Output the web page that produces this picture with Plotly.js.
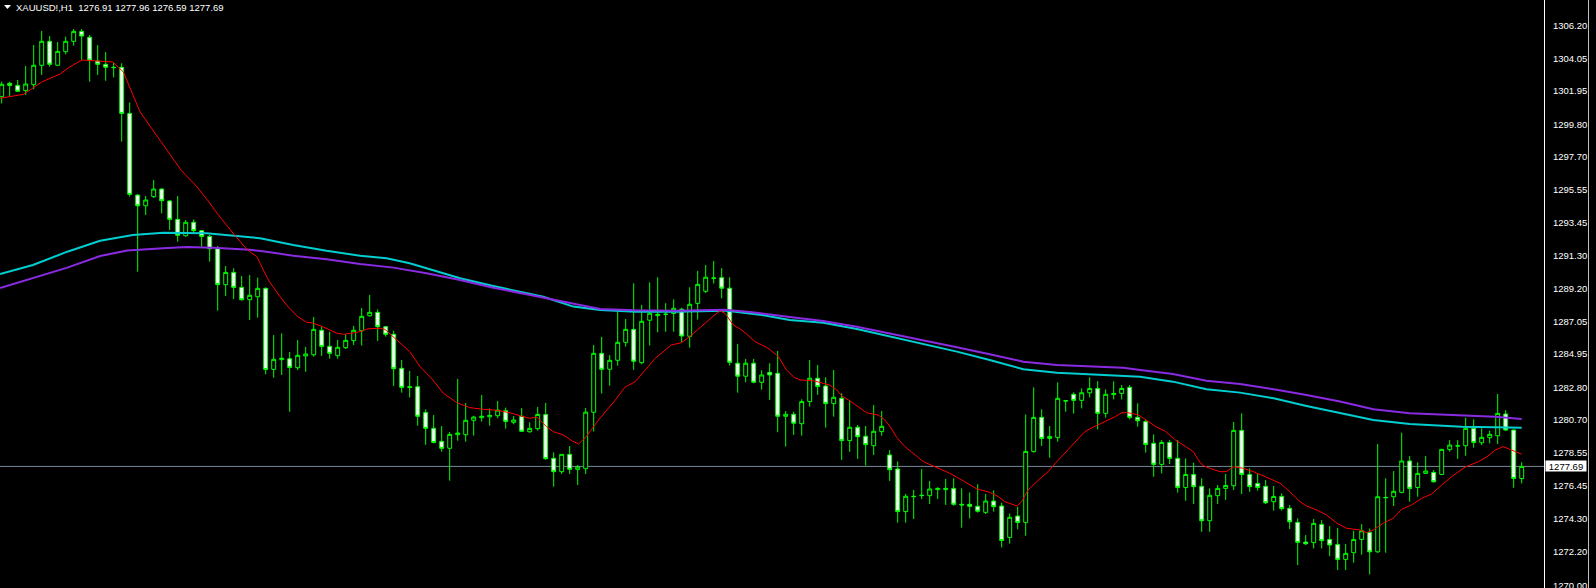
<!DOCTYPE html>
<html>
<head>
<meta charset="utf-8">
<script src="https://cdn.plot.ly/plotly-3.0.1.min.js"></script>
<style>
  html, body { margin:0; padding:0; background:#000; }
  #chart { width:1596px; height:588px; }
</style>
</head>
<body>
<div id="chart"></div>
<script>
// ---- Data ----
const symbolLabel = "XAUUSD!,H1";
const lastOHLC = [1276.91, 1277.96, 1276.59, 1277.69];

const openP = [
1301.59,1302.45,1302.32,1301.98,1302.37,1303.62,1305.17,1303.62,1304.50,1305.17,
1305.81,1305.43,1303.90,1303.68,1303.49,1303.49,1300.51,1295.23,1294.54,1295.13,
1295.62,1294.85,1293.66,1292.60,1293.47,1292.93,1292.56,1291.76,1289.44,1290.23,
1289.26,1288.47,1288.66,1289.20,1283.96,1284.59,1284.65,1284.07,1284.83,1284.91,
1286.49,1285.45,1284.85,1285.37,1285.82,1286.46,1287.43,1287.65,1286.72,1286.23,
1284.03,1282.84,1282.84,1281.18,1280.15,1279.31,1278.86,1279.74,1279.74,1280.67,
1280.84,1280.90,1280.97,1281.29,1280.54,1280.93,1279.93,1280.13,1281.05,1278.21,
1277.35,1278.47,1277.50,1277.54,1281.19,1285.00,1283.97,1284.55,1285.71,1286.55,
1284.40,1287.14,1287.44,1287.52,1287.57,1287.85,1286.10,1288.23,1289.01,1289.85,
1289.89,1289.21,1284.36,1283.52,1284.36,1283.13,1283.77,1283.71,1280.93,1281.06,
1280.45,1281.88,1283.39,1282.89,1281.75,1282.09,1279.36,1280.22,1279.64,1279.03,
1279.94,1278.43,1277.52,1274.77,1275.76,1275.80,1275.80,1276.19,1276.19,1276.27,
1275.24,1275.24,1275.11,1274.72,1275.45,1275.13,1273.10,1274.48,1274.07,1278.66,
1280.86,1279.50,1279.55,1281.94,1282.35,1281.96,1282.45,1282.73,1281.12,1282.33,
1282.41,1282.80,1280.86,1280.58,1279.18,1277.82,1279.24,1278.21,1276.33,1277.17,
1276.40,1274.18,1275.80,1276.27,1276.44,1280.02,1277.17,1276.59,1276.40,1275.41,
1275.75,1274.98,1274.07,1272.80,1272.76,1273.94,1272.97,1272.65,1271.68,1272.11,
1272.97,1273.42,1272.17,1275.69,1275.73,1276.01,1278.04,1276.33,1277.24,1277.30,
1277.17,1278.79,1279.01,1279.03,1280.15,1279.22,1279.55,1279.67,1281.08,1280.04,
1276.91
];
const highP = [
1302.56,1302.56,1302.67,1303.57,1304.93,1305.84,1305.51,1305.12,1305.47,1305.97,
1305.97,1305.58,1304.93,1304.48,1303.79,1303.75,1301.22,1295.30,1295.17,1296.20,
1295.67,1294.91,1295.17,1293.62,1293.66,1292.97,1292.65,1291.94,1290.64,1290.49,
1290.00,1290.06,1289.89,1289.26,1286.18,1286.29,1285.09,1285.86,1285.41,1287.35,
1286.72,1286.40,1285.86,1286.23,1286.77,1287.93,1288.77,1287.84,1286.77,1286.46,
1284.57,1283.86,1283.53,1281.38,1281.01,1280.30,1279.91,1283.34,1281.79,1280.97,
1282.30,1281.44,1281.92,1281.49,1280.95,1281.46,1280.54,1281.53,1281.79,1278.60,
1278.47,1279.01,1277.78,1281.46,1285.54,1286.06,1284.89,1287.70,1287.22,1289.53,
1288.13,1289.59,1289.92,1288.24,1288.49,1287.95,1289.27,1290.33,1290.71,1290.97,
1290.50,1289.92,1285.61,1284.64,1284.64,1283.90,1284.36,1285.15,1281.27,1281.23,
1282.03,1284.57,1284.25,1283.45,1283.92,1282.42,1281.98,1280.37,1280.30,1281.66,
1281.27,1278.75,1278.00,1275.91,1276.17,1277.52,1276.75,1276.34,1276.88,1276.92,
1276.27,1276.01,1276.53,1275.91,1276.14,1275.35,1274.65,1275.08,1281.05,1282.80,
1281.38,1280.30,1283.12,1281.96,1282.48,1282.73,1283.45,1283.21,1282.67,1283.19,
1282.95,1282.95,1281.77,1280.69,1279.76,1279.39,1279.39,1279.39,1278.21,1277.93,
1276.92,1276.27,1276.49,1277.20,1280.56,1281.12,1277.56,1277.20,1276.81,1276.42,
1275.95,1275.19,1274.33,1273.25,1274.29,1274.22,1273.83,1273.71,1272.67,1273.53,
1273.96,1273.68,1279.14,1276.92,1277.39,1279.87,1278.36,1277.95,1278.36,1277.45,
1278.83,1279.39,1279.39,1280.84,1280.73,1280.15,1280.00,1282.37,1281.33,1280.08,
1277.96
];
const lowP = [
1301.16,1301.59,1301.89,1301.70,1302.07,1302.99,1303.53,1303.57,1304.33,1304.89,
1303.96,1302.56,1302.99,1302.62,1302.84,1298.68,1295.13,1290.28,1293.94,1295.04,
1294.05,1292.97,1292.22,1292.54,1292.71,1291.89,1290.92,1287.76,1288.70,1288.51,
1288.40,1287.15,1287.30,1283.64,1283.43,1283.60,1281.23,1283.92,1283.81,1284.78,
1284.83,1284.65,1284.65,1285.28,1285.54,1285.50,1287.37,1285.80,1286.08,1282.89,
1282.46,1282.15,1280.32,1279.09,1279.18,1278.64,1276.77,1279.35,1279.29,1279.68,
1280.58,1280.32,1280.80,1280.13,1280.41,1279.91,1279.87,1280.00,1278.12,1276.38,
1277.20,1277.20,1276.49,1277.20,1279.94,1282.40,1282.91,1284.21,1285.43,1283.93,
1284.29,1285.50,1286.36,1286.40,1286.40,1285.71,1285.37,1287.18,1288.90,1289.51,
1288.56,1284.21,1282.46,1283.13,1283.06,1282.65,1281.99,1279.90,1278.97,1279.72,
1279.68,1281.55,1282.31,1280.20,1280.91,1278.11,1278.64,1278.17,1277.74,1278.43,
1279.68,1276.75,1274.05,1274.05,1274.29,1275.58,1275.26,1275.58,1275.20,1275.15,
1273.73,1274.33,1274.70,1274.61,1274.77,1272.45,1272.70,1273.62,1273.21,1278.58,
1279.01,1278.25,1279.29,1281.23,1281.10,1281.44,1282.15,1280.08,1280.84,1282.02,
1282.02,1280.73,1280.26,1278.58,1277.02,1277.24,1277.84,1275.99,1275.47,1275.26,
1273.47,1273.47,1275.26,1275.52,1276.16,1275.90,1276.05,1276.12,1275.26,1274.83,
1274.83,1273.64,1271.31,1272.61,1272.39,1272.39,1271.89,1270.99,1270.99,1271.46,
1271.98,1270.71,1272.10,1272.11,1275.13,1275.95,1275.41,1275.73,1277.20,1276.64,
1277.15,1278.64,1278.17,1278.38,1278.90,1279.07,1279.18,1279.14,1280.00,1276.31,
1276.59
];
const closeP = [
1302.39,1302.32,1301.94,1302.41,1303.62,1305.17,1303.68,1304.52,1305.17,1305.81,
1305.51,1303.96,1303.68,1303.49,1303.47,1300.51,1295.28,1294.54,1294.91,1295.62,
1294.87,1293.66,1292.63,1293.47,1292.93,1292.56,1291.76,1289.44,1290.23,1289.26,
1288.47,1288.75,1289.20,1283.96,1284.61,1284.68,1284.09,1284.87,1284.96,1286.55,
1285.45,1285.00,1285.39,1285.84,1286.49,1287.39,1287.65,1286.72,1286.23,1284.01,
1282.80,1282.80,1280.93,1280.15,1279.24,1278.86,1279.76,1279.85,1280.67,1280.88,
1280.93,1280.99,1281.33,1280.60,1280.69,1279.96,1280.15,1281.05,1278.19,1277.35,
1278.47,1277.50,1277.65,1281.20,1285.00,1283.97,1284.55,1285.71,1286.55,1284.49,
1287.07,1287.59,1287.52,1287.53,1287.91,1286.12,1288.17,1289.46,1289.92,1289.87,
1289.21,1284.42,1283.52,1284.36,1283.13,1283.60,1283.60,1280.93,1281.06,1280.48,
1281.88,1283.39,1282.85,1281.75,1282.16,1279.36,1280.22,1279.61,1279.10,1279.96,
1280.28,1277.48,1274.77,1275.76,1275.74,1275.82,1276.23,1276.27,1276.27,1275.24,
1275.20,1275.11,1274.79,1275.45,1275.09,1272.90,1274.40,1274.07,1278.66,1280.86,
1279.50,1279.63,1282.09,1281.92,1281.96,1282.45,1282.73,1281.12,1282.35,1282.41,
1282.73,1280.86,1280.64,1279.11,1277.82,1279.24,1278.21,1276.33,1277.17,1276.38,
1274.18,1275.82,1276.27,1276.46,1280.02,1277.17,1276.38,1276.33,1275.34,1275.75,
1274.96,1274.11,1272.78,1272.69,1274.01,1272.89,1272.61,1271.68,1272.07,1272.97,
1273.53,1272.17,1275.73,1275.67,1276.08,1278.04,1276.27,1277.24,1277.39,1276.70,
1278.79,1279.07,1279.02,1280.15,1279.24,1279.57,1279.76,1281.12,1280.04,1276.91,
1277.69
];

// Fast moving average (red), read at bar positions
const redX = [-0.2,2.7,3.9,5.0,7.3,8.5,10.0,11.9,13.9,15.2,17.3,22.5,24.4,26.0,26.9,28.9,30.4,31.2,31.9,32.7,33.4,34.8,35.8,37.0,38.1,38.9,40.2,41.9,42.7,43.8,44.8,45.8,47.3,47.9,48.7,49.7,51.0,52.3,53.9,55.2,56.9,58.5,60.2,61.9,63.5,65.2,66.0,66.9,68.1,68.95,70.2,71.25,72.1,72.9,73.5,74.6,76.7,77.9,79.2,80.4,81.7,83.7,85.0,86.25,87.9,88.95,89.8,90.4,91.45,92.5,94.2,95.8,97.1,98.1,99.1,99.8,101.45,102.5,103.5,104.4,105.0,106.0,107.3,108.1,109.6,110.4,111.0,111.9,112.9,114.4,115.2,116.9,118.5,120.2,121.9,123.5,124.6,125.4,126.9,127.5,128.3,129.6,130.8,131.7,132.9,134.4,135.4,136.4,137.9,139.2,140.0,140.8,142.1,143.3,144.4,145.4,146.7,147.9,148.95,149.8,150.3,151.0,152.3,153.1,153.95,155.2,156.45,158.1,159.8,161.0,162.3,163.1,164.4,165.6,166.9,168.1,169.8,170.6,171.45,172.7,173.95,175.0,176.25,177.5,178.75,180.0,181.25,182.9,184.6,185.8,186.7,187.7,188.5,189.2,190.0];
const redY = [1301.49,1301.74,1302.15,1302.54,1303.06,1303.51,1303.96,1303.90,1303.83,1303.19,1300.60,1296.79,1295.77,1294.72,1294.07,1292.78,1291.87,1291.49,1291.25,1290.39,1289.68,1288.66,1288.02,1287.37,1287.01,1286.96,1286.70,1286.30,1286.23,1286.30,1286.40,1286.59,1286.62,1286.55,1286.19,1285.75,1285.11,1284.14,1283.28,1282.42,1281.81,1281.49,1281.38,1281.32,1281.16,1280.91,1280.80,1280.87,1280.26,1279.94,1279.72,1279.35,1279.14,1279.51,1279.94,1280.69,1281.98,1282.81,1283.17,1283.92,1284.68,1285.54,1285.69,1286.19,1286.94,1287.41,1287.74,1287.59,1286.83,1286.51,1285.75,1285.33,1284.78,1283.92,1283.43,1283.28,1283.23,1283.10,1282.95,1282.63,1282.24,1281.94,1281.45,1281.16,1281.00,1280.69,1280.30,1279.55,1278.97,1278.32,1278.00,1277.61,1277.25,1276.75,1276.23,1276.02,1275.73,1275.41,1275.13,1275.41,1276.17,1276.81,1277.35,1277.89,1278.54,1279.40,1279.94,1280.22,1280.58,1280.91,1281.16,1281.16,1281.02,1280.58,1280.22,1279.98,1279.40,1279.01,1278.64,1277.93,1277.72,1277.57,1277.35,1277.35,1277.67,1277.57,1277.35,1276.99,1276.60,1276.06,1275.41,1275.13,1274.87,1274.55,1274.02,1273.69,1273.58,1273.41,1273.58,1274.02,1274.34,1274.92,1275.20,1275.63,1275.91,1276.49,1277.03,1277.64,1278.00,1278.37,1278.75,1278.97,1278.80,1278.65,1278.48];

// Slow moving average (turquoise)
const cyanX = [-0.2,3.9,8.2,12.3,16.4,20.2,25.6,30.2,32.3,36.45,40.6,44.8,48.1,51.0,53.1,57.3,61.45,65.6,67.7,71.45,74.8,79.2,84.2,90.4,95.0,98.5,102.7,106.9,111.0,115.2,119.4,123.5,127.7,131.9,136.0,140.2,142.3,146.4,150.6,154.8,159.0,163.1,167.3,171.45,176.0,182.5,186.7,190.0];
const cyanY = [1290.13,1290.71,1291.57,1292.28,1292.65,1292.80,1292.76,1292.54,1292.44,1292.00,1291.63,1291.31,1291.14,1290.82,1290.50,1289.85,1289.35,1288.88,1288.66,1288.02,1287.80,1287.69,1287.69,1287.76,1287.48,1287.16,1286.98,1286.57,1286.08,1285.58,1285.11,1284.57,1283.97,1283.75,1283.65,1283.56,1283.49,1283.17,1282.68,1282.46,1282.09,1281.60,1281.12,1280.69,1280.43,1280.26,1280.22,1280.19];

// Slow moving average (violet)
const purpleX = [-0.2,3.5,8.2,12.3,15.7,20.2,23.1,26.45,31.0,33.1,36.45,40.6,44.8,48.95,53.1,57.3,61.45,65.6,69.8,74.8,79.2,84.2,90.4,93.8,98.5,102.7,106.9,111.0,115.2,119.4,123.5,127.7,131.9,136.0,140.2,142.3,146.4,150.6,154.8,159.0,163.1,167.3,171.45,176.0,182.5,186.7,190.0];
const purpleY = [1289.22,1289.79,1290.54,1291.29,1291.64,1291.79,1291.87,1291.83,1291.70,1291.57,1291.31,1291.08,1290.77,1290.54,1290.17,1289.74,1289.24,1288.82,1288.38,1287.87,1287.78,1287.76,1287.82,1287.65,1287.35,1287.09,1286.72,1286.30,1285.86,1285.39,1284.94,1284.46,1284.25,1284.14,1284.07,1283.92,1283.66,1283.23,1283.02,1282.68,1282.31,1281.88,1281.38,1281.12,1280.99,1280.90,1280.76];

// Price axis labels
const priceTicks = [1306.20,1304.05,1301.95,1299.80,1297.70,1295.55,1293.45,1291.30,1289.20,1287.05,1284.95,1282.80,1280.70,1278.55,1276.45,1274.30,1272.20,1270.00];

// ---- Chart ----
const barIdx = openP.map((_, i) => i);
const lastPrice = lastOHLC[3];

const W = 1596, H = 588, R = 52, PW = W - R;
const px = v => v / PW;          // pixel -> paper (x)
const py = v => 1 - v / H;       // pixel -> paper (y)

const traces = [
  {
    type: 'candlestick',
    x: barIdx, open: openP, high: highP, low: lowP, close: closeP,
    increasing: { line: { color: '#00ff00', width: 1 }, fillcolor: '#000000' },
    decreasing: { line: { color: '#00ff00', width: 1 }, fillcolor: '#ffffff' },
    whiskerwidth: 0,
    hoverinfo: 'skip',
    showlegend: false
  },
  { type: 'scatter', mode: 'lines', x: cyanX, y: cyanY,
    line: { color: '#00ced1', width: 2 }, hoverinfo: 'skip', showlegend: false },
  { type: 'scatter', mode: 'lines', x: purpleX, y: purpleY,
    line: { color: '#8a2be2', width: 2 }, hoverinfo: 'skip', showlegend: false },
  { type: 'scatter', mode: 'lines', x: redX, y: redY,
    line: { color: '#ff0000', width: 1 }, hoverinfo: 'skip', showlegend: false }
];

const layout = {
  width: W, height: H,
  paper_bgcolor: '#000000', plot_bgcolor: '#000000',
  margin: { l: 0, r: R, t: 0, b: 0, pad: 0 },
  showlegend: false,
  hovermode: false,
  dragmode: false,
  xaxis: {
    range: [-0.2125, 192.7875], visible: false, showgrid: false, zeroline: false,
    rangeslider: { visible: false }, fixedrange: true
  },
  yaxis: {
    range: [1269.83, 1307.84], side: 'right', showgrid: false, zeroline: false,
    showline: true, linecolor: '#ffffff', linewidth: 1,
    ticks: '', tickvals: priceTicks, ticktext: priceTicks.map(v => v.toFixed(2)),
    tickfont: { family: 'Liberation Sans, Arial, sans-serif', size: 9.5, color: '#ffffff' },
    ticklabelstandoff: 6, ticklabeloverflow: 'allow', fixedrange: true
  },
  shapes: [
    { type: 'line', xref: 'paper', yref: 'y', x0: 0, x1: 1, y0: lastPrice, y1: lastPrice,
      line: { color: '#778899', width: 1 }, layer: 'below' },
    { type: 'line', xref: 'paper', yref: 'paper', x0: px(1588.5), x1: px(1588.5), y0: 0, y1: 1,
      line: { color: '#c0c0c0', width: 1 } },
    { type: 'path', xref: 'paper', yref: 'paper',
      path: 'M ' + px(4) + ',' + py(5) + ' L ' + px(11) + ',' + py(5) + ' L ' + px(7.5) + ',' + py(9) + ' Z',
      fillcolor: '#ffffff', line: { color: '#ffffff', width: 0 } }
  ],
  annotations: [
    { xref: 'paper', yref: 'y', x: 1, y: lastPrice, xanchor: 'left', yanchor: 'middle', xshift: 1,
      text: lastPrice.toFixed(2), showarrow: false, bgcolor: '#ffffff', width: 40, height: 10,
      borderpad: 0, align: 'center',
      font: { family: 'Liberation Sans, Arial, sans-serif', size: 9.5, color: '#000000' } },
    { xref: 'paper', yref: 'paper', x: px(14), y: py(7.5), xanchor: 'left', yanchor: 'middle',
      text: symbolLabel + '  ' + lastOHLC.map(v => v.toFixed(2)).join(' '), showarrow: false,
      font: { family: 'Liberation Sans, Arial, sans-serif', size: 9.5, color: '#ffffff' } }
  ]
};

Plotly.newPlot('chart', traces, layout, { staticPlot: true, displayModeBar: false });
</script>
</body>
</html>
